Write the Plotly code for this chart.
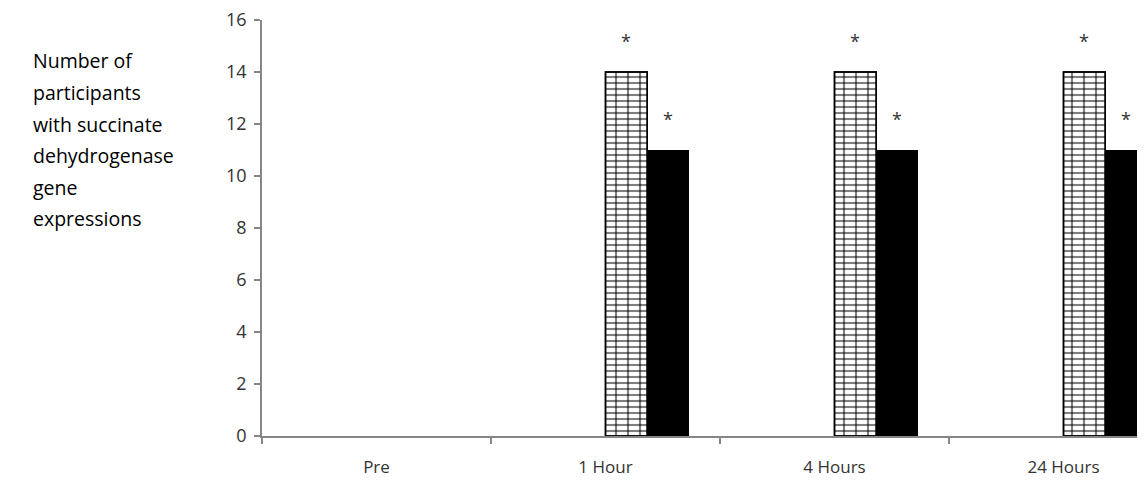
import plotly.graph_objects as go

categories = ["Pre", "1 Hour", "4 Hours", "24 Hours"]
series_a = [0, 14, 14, 14]   # brick-pattern bars
series_b = [0, 11, 11, 11]   # solid black bars
significant_a = [False, True, True, True]
significant_b = [False, True, True, True]
y_ticks = [0, 2, 4, 6, 8, 10, 12, 14, 16]
title_lines = ["Number of", "participants", "with succinate",
               "dehydrogenase", "gene", "expressions"]

# page body has an 8px margin, so the figure is sized to fill the rest of the window
W, H = 1137, 487
ML, MR, MT, MB = 254, 0, 12, 59
PW, PH = W - ML - MR, H - MT - MB
CAT_PX = 229
BAR_W = 0.1823
FONT = "Open Sans"
AXIS_COLOR = "#868686"
TEXT_COLOR = "#333333"

line_w_a = [1.5 if v else 0 for v in series_a]

fig = go.Figure()
# brick pattern: horizontal courses
fig.add_trace(go.Bar(
    x=categories, y=series_a, width=BAR_W, offset=0,
    marker=dict(color="white",
                pattern=dict(shape="-", size=6, solidity=0.35,
                             fgcolor="black", bgcolor="white"),
                line=dict(color="black", width=line_w_a)),
    showlegend=False, hoverinfo="x+y"))
# brick pattern: vertical joints
fig.add_trace(go.Bar(
    x=categories, y=series_a, width=BAR_W, offset=0,
    marker=dict(color="rgba(0,0,0,0)",
                pattern=dict(shape="|", size=12, solidity=0.18,
                             fgcolor="black", bgcolor="rgba(0,0,0,0)", fillmode="overlay"),
                line=dict(color="black", width=line_w_a)),
    showlegend=False, hoverinfo="skip"))
fig.add_trace(go.Bar(
    x=categories, y=series_b, width=BAR_W, offset=BAR_W,
    marker=dict(color="black", line=dict(width=0)),
    showlegend=False, hoverinfo="x+y"))

annotations = []
for i, (va, vb, sa, sb) in enumerate(zip(series_a, series_b, significant_a, significant_b)):
    if sa:
        annotations.append(dict(x=i + BAR_W / 2, y=va, xref="x", yref="y", text="*",
                                showarrow=False, yanchor="bottom", yshift=17,
                                font=dict(family=FONT, size=18, color=TEXT_COLOR)))
    if sb:
        annotations.append(dict(x=i + 1.5 * BAR_W, y=vb, xref="x", yref="y", text="*",
                                showarrow=False, yanchor="bottom", yshift=17,
                                font=dict(family=FONT, size=18, color=TEXT_COLOR)))

for k, line in enumerate(title_lines):
    ypx = 53 + 31.5 * k
    annotations.append(dict(x=(31 - 8 - ML) / PW, y=(H - MB - ypx) / PH, xref="paper", yref="paper",
                            text=line, showarrow=False, xanchor="left", yanchor="middle",
                            font=dict(family=FONT, size=19.5, color="black")))

fig.update_layout(
    width=W, height=H, autosize=False,
    margin=dict(l=ML, r=MR, t=MT, b=MB, pad=0, autoexpand=False),
    plot_bgcolor="white", paper_bgcolor="white",
    barmode="group",
    font=dict(family=FONT, size=17, color=TEXT_COLOR),
    annotations=annotations,
    xaxis=dict(type="category", range=[-0.5, -0.5 + PW / CAT_PX], automargin=False,
               showline=True, linecolor=AXIS_COLOR, linewidth=1.5,
               ticks="outside", tickson="boundaries", ticklen=6, tickcolor=AXIS_COLOR, tickwidth=1.5,
               showgrid=False, zeroline=False, ticklabelstandoff=15,
               tickfont=dict(family=FONT, size=17, color=TEXT_COLOR)),
    yaxis=dict(range=[0, 16], tickvals=y_ticks, automargin=False,
               showline=True, linecolor=AXIS_COLOR, linewidth=1.5,
               ticks="outside", ticklen=6, tickcolor=AXIS_COLOR, tickwidth=1.5,
               showgrid=False, zeroline=False, ticklabelstandoff=4,
               ticklabeloverflow="allow",
               tickfont=dict(family=FONT, size=18, color=TEXT_COLOR)),
)

fig.write_html("out.html")
